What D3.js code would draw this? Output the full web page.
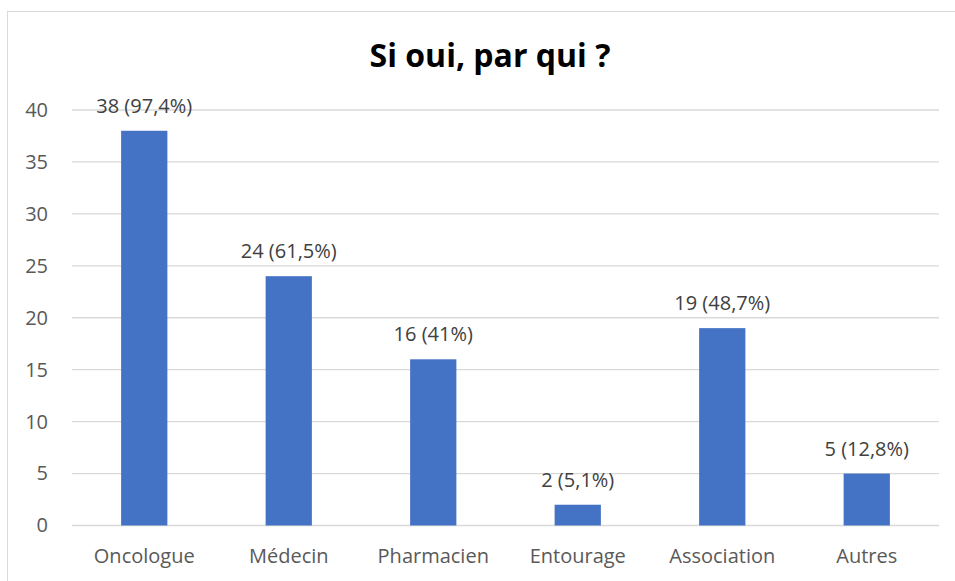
<!DOCTYPE html>
<html><head><meta charset="utf-8">
<script src="https://cdn.jsdelivr.net/npm/d3@7"></script>
<style>body{margin:0;background:#fff}</style>
</head><body>
<svg id="chart" width="955" height="581"></svg>
<script>
const categories = ["Oncologue", "Médecin", "Pharmacien", "Entourage", "Association", "Autres"];
const counts = [38, 24, 16, 2, 19, 5];
const percentLabels = ["97,4%", "61,5%", "41%", "5,1%", "48,7%", "12,8%"];
const yTicks = [0, 5, 10, 15, 20, 25, 30, 35, 40];
const title = "Si oui, par qui ?";

const svg = d3.select("#chart");
const font = "'Open Sans', 'Noto Sans', sans-serif";
const labelSize = 20;

// chart frame
svg.append("rect").attr("x", 7.5).attr("y", 11.5).attr("width", 960).attr("height", 600)
  .attr("fill", "#fff").attr("stroke", "#d9d9d9").attr("stroke-width", 1);

const plot = { left: 72, right: 939, top: 110, bottom: 525.5 };
const x = d3.scaleBand().domain(categories).range([plot.left, plot.right]).paddingInner(0.68).paddingOuter(0.34);
const y = d3.scaleLinear().domain([0, 40]).range([plot.bottom, plot.top]);

// gridlines
svg.append("g").selectAll("line").data(yTicks).join("line")
  .attr("x1", plot.left).attr("x2", plot.right)
  .attr("y1", d => y(d)).attr("y2", d => y(d))
  .attr("stroke", "#d9d9d9").attr("stroke-width", 1.3);

// y axis labels
const yAxis = svg.append("g").attr("transform", `translate(${plot.left},0)`)
  .call(d3.axisLeft(y).tickValues(yTicks).tickSize(0).tickPadding(24));
yAxis.select(".domain").remove();
yAxis.selectAll("text").attr("font-family", font).attr("font-size", labelSize).attr("fill", "#595959");

// bars
svg.append("g").selectAll("rect").data(categories).join("rect")
  .attr("x", d => x(d)).attr("width", x.bandwidth())
  .attr("y", (d, i) => y(counts[i])).attr("height", (d, i) => y(0) - y(counts[i]))
  .attr("fill", "#4472c4");

// value labels
svg.append("g").selectAll("text").data(categories).join("text")
  .attr("x", d => x(d) + x.bandwidth() / 2)
  .attr("y", (d, i) => y(counts[i]) - 18)
  .attr("text-anchor", "middle")
  .attr("font-family", font).attr("font-size", labelSize).attr("fill", "#404040")
  .text((d, i) => `${counts[i]} (${percentLabels[i]})`);

// category axis
const xAxis = svg.append("g").attr("transform", `translate(0,${plot.bottom})`)
  .call(d3.axisBottom(x).tickSize(0).tickPadding(23));
xAxis.select(".domain").remove();
xAxis.selectAll("text").attr("font-family", font).attr("font-size", labelSize).attr("fill", "#595959");

// title
svg.append("text").attr("x", 490).attr("y", 67).attr("text-anchor", "middle")
  .attr("font-family", font).attr("font-weight", "bold").attr("font-size", 32).attr("fill", "#000")
  .text(title);
</script>
</body></html>
